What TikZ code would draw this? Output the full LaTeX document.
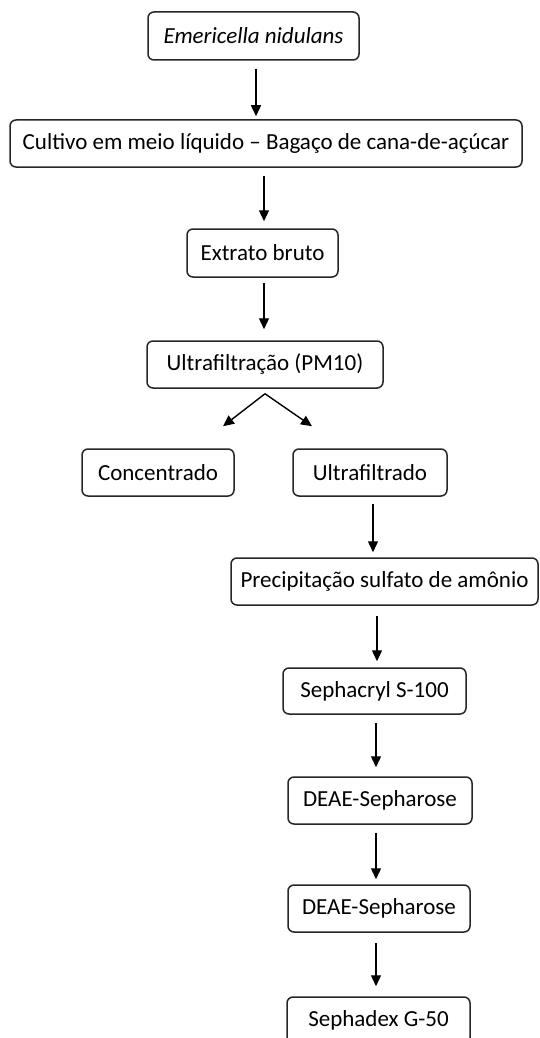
\documentclass[tikz,border=0pt]{standalone}
\usepackage{fontspec}
\setmainfont{Carlito}
\usetikzlibrary{arrows.meta,calc}
\tikzset{
  box/.style={draw=black!85, line width=1.5pt, rounded corners=6pt, fill=white,
    inner sep=0pt, align=center, font=\fontsize{23}{27}\selectfont},
  arr/.style={draw=black, line width=1.4pt, -{Triangle[width=10pt,length=11pt]}}
}
\begin{document}
\begin{tikzpicture}[x=1pt,y=-1pt]
\useasboundingbox (0,0) rectangle (539,1038);
\clip (0,0) rectangle (539,1038);
\node[box, minimum width=211pt, minimum height=48pt] (n1) at (253.5,36) {\itshape Emericella nidulans};
\node[box, minimum width=512pt, minimum height=47pt] (n2) at (266,143.5) {Cultivo em meio líquido – Bagaço de cana-de-açúcar};
\node[box, minimum width=151pt, minimum height=48pt] (n3) at (262.5,253) {Extrato bruto};
\node[box, minimum width=236pt, minimum height=47pt] (n4) at (265,364.5) {Ultrafiltração (PM10)};
\node[box, minimum width=152pt, minimum height=47pt] (n5) at (158,472.5) {Concentrado};
\node[box, minimum width=154pt, minimum height=47pt] (n6) at (370,472.5) {Ultrafiltrado};
\node[box, minimum width=307pt, minimum height=47pt] (n7) at (384.5,581.5) {Precipitação sulfato de amônio};
\node[box, minimum width=183pt, minimum height=46pt] (n8) at (374.5,691) {Sephacryl S-100};
\node[box, minimum width=184pt, minimum height=47pt] (n9) at (380,800.5) {DEAE-Sepharose};
\node[box, minimum width=182pt, minimum height=47pt] (n10) at (379,908.5) {DEAE-Sepharose};
\node[box, minimum width=183pt, minimum height=47pt] (n11) at (378.5,1020.5) {Sephadex G-50};

\draw[arr, shorten <=8pt, shorten >=3pt] ([xshift=2.5pt]n1.south) -- ([xshift=2.5pt]n1.south |- n2.north);
\draw[arr, shorten <=8pt, shorten >=7pt] ([xshift=-2pt]n2.south) -- ([xshift=-2pt]n2.south |- n3.north);
\draw[arr, shorten <=5pt, shorten >=11pt] ([xshift=1.5pt]n3.south) -- ([xshift=1.5pt]n3.south |- n4.north);
\draw[arr] ([yshift=-5pt]n4.south) -- ([xshift=65pt,yshift=22pt]n5.north);
\draw[arr] ([yshift=-5pt]n4.south) -- ([xshift=-58pt,yshift=22pt]n6.north);
\draw[arr, shorten <=7pt, shorten >=5pt] ([xshift=3pt]n6.south) -- ([xshift=3pt]n6.south |- n7.north);
\draw[arr, shorten <=10pt, shorten >=6pt] ([xshift=-7.5pt]n7.south) -- ([xshift=-7.5pt]n7.south |- n8.north);
\draw[arr, shorten <=8pt, shorten >=9pt] ([xshift=1.5pt]n8.south) -- ([xshift=1.5pt]n8.south |- n9.north);
\draw[arr, shorten <=8pt, shorten >=5pt] ([xshift=-4pt]n9.south) -- ([xshift=-4pt]n9.south |- n10.north);
\draw[arr, shorten <=10pt, shorten >=10pt] ([xshift=-3pt]n10.south) -- ([xshift=-3pt]n10.south |- n11.north);
\end{tikzpicture}
\end{document}
